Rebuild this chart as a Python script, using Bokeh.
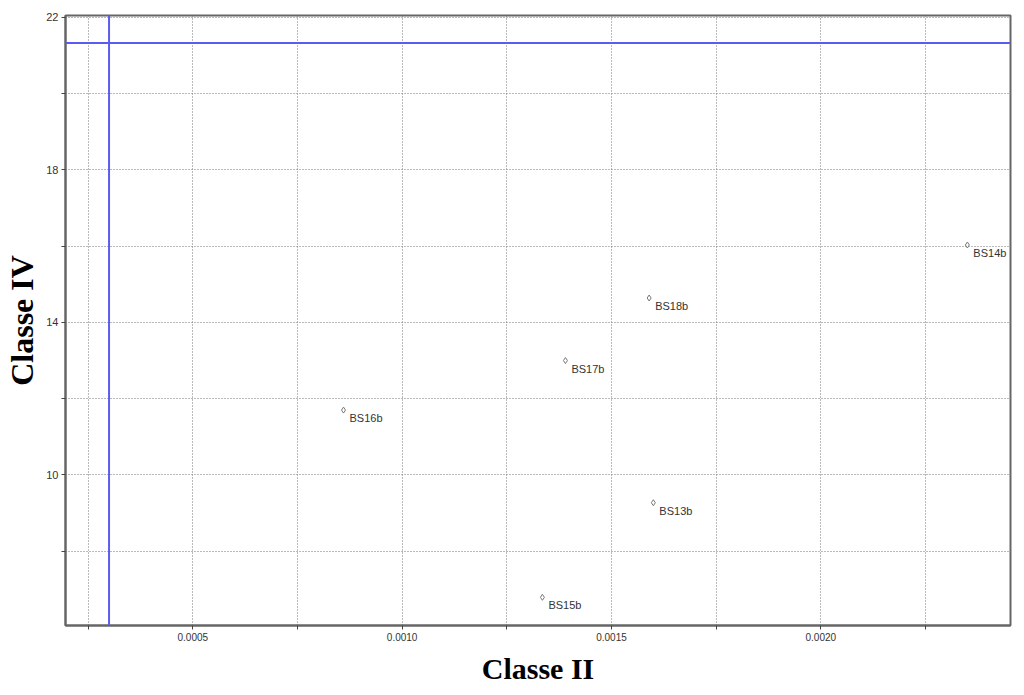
from bokeh.plotting import figure
from bokeh.models import Range1d, FixedTicker, Span, ColumnDataSource
from bokeh.core.properties import value
from bokeh.embed import file_html
from bokeh.resources import INLINE

# Data
names = ["BS14b", "BS18b", "BS17b", "BS16b", "BS13b", "BS15b"]
classe_ii = [0.00235, 0.00159, 0.00139, 0.00086, 0.00160, 0.001335]
classe_iv = [16.03, 14.64, 13.00, 11.70, 9.27, 6.79]

x_ticks = [0.00025, 0.0005, 0.00075, 0.0010, 0.00125, 0.0015, 0.00175, 0.0020, 0.00225]
x_tick_labels = ["", "0.0005", "", "0.0010", "", "0.0015", "", "0.0020", ""]
y_ticks = [8, 10, 12, 14, 16, 18, 20, 22]
y_tick_labels = ["", "10", "", "14", "", "18", "", "22"]

ref_x = 0.0003
ref_y = 21.33

src = ColumnDataSource(dict(x=classe_ii, y=classe_iv, name=names))

p = figure(width=1016, height=688, output_backend="svg", toolbar_location=None,
           x_range=Range1d(0.000196, 0.002453), y_range=Range1d(6.05, 22.05),
           min_border_left=65, min_border_right=6, min_border_top=15, min_border_bottom=63)

p.background_fill_color = "white"
p.border_fill_color = "white"
p.outline_line_color = "#666666"
p.outline_line_width = 2

p.xaxis.ticker = FixedTicker(ticks=x_ticks, minor_ticks=[])
p.yaxis.ticker = FixedTicker(ticks=y_ticks, minor_ticks=[])
p.xaxis.major_label_overrides = {t: l for t, l in zip(x_ticks, x_tick_labels)}
p.yaxis.major_label_overrides = {t: l for t, l in zip(y_ticks, y_tick_labels)}

for ax in (p.xaxis, p.yaxis):
    ax.axis_line_color = "#666666"
    ax.axis_line_width = 2
    ax.major_tick_line_color = "#444444"
    ax.major_tick_out = 4
    ax.major_tick_in = 0
    ax.minor_tick_line_color = None
    ax.major_label_text_font = "Liberation Sans"
    ax.major_label_text_color = "#333333"
    ax.major_label_standoff = 3
    ax.axis_label_text_font = "Liberation Serif"
    ax.axis_label_text_font_style = "bold"
    ax.axis_label_text_color = "#000000"

p.xaxis.major_label_text_font_size = "10px"
p.yaxis.major_label_text_font_size = "11px"
p.xaxis.axis_label = "Classe II"
p.yaxis.axis_label = "Classe IV"
p.xaxis.axis_label_text_font_size = "30px"
p.yaxis.axis_label_text_font_size = "32px"
p.xaxis.axis_label_standoff = 8
p.yaxis.axis_label_standoff = 3

for g in (p.xgrid, p.ygrid):
    g.grid_line_color = "#777777"
    g.grid_line_dash = "1 2"
    g.grid_line_width = 1

p.add_layout(Span(location=ref_x, dimension="height", line_color="#5b5bf0", line_width=2))
p.add_layout(Span(location=ref_y, dimension="width", line_color="#5b5bf0", line_width=2))

p.scatter("x", "y", source=src, marker="diamond", size=6, fill_color=None,
          line_color="#777777", line_width=1)
p.text("x", "y", text="name", source=src, x_offset=6, y_offset=8,
       text_font=value("Liberation Sans"), text_font_size="11px",
       text_color="#333333", text_baseline="middle", text_align="left")

open("out.html", "w").write(file_html(p, INLINE))
